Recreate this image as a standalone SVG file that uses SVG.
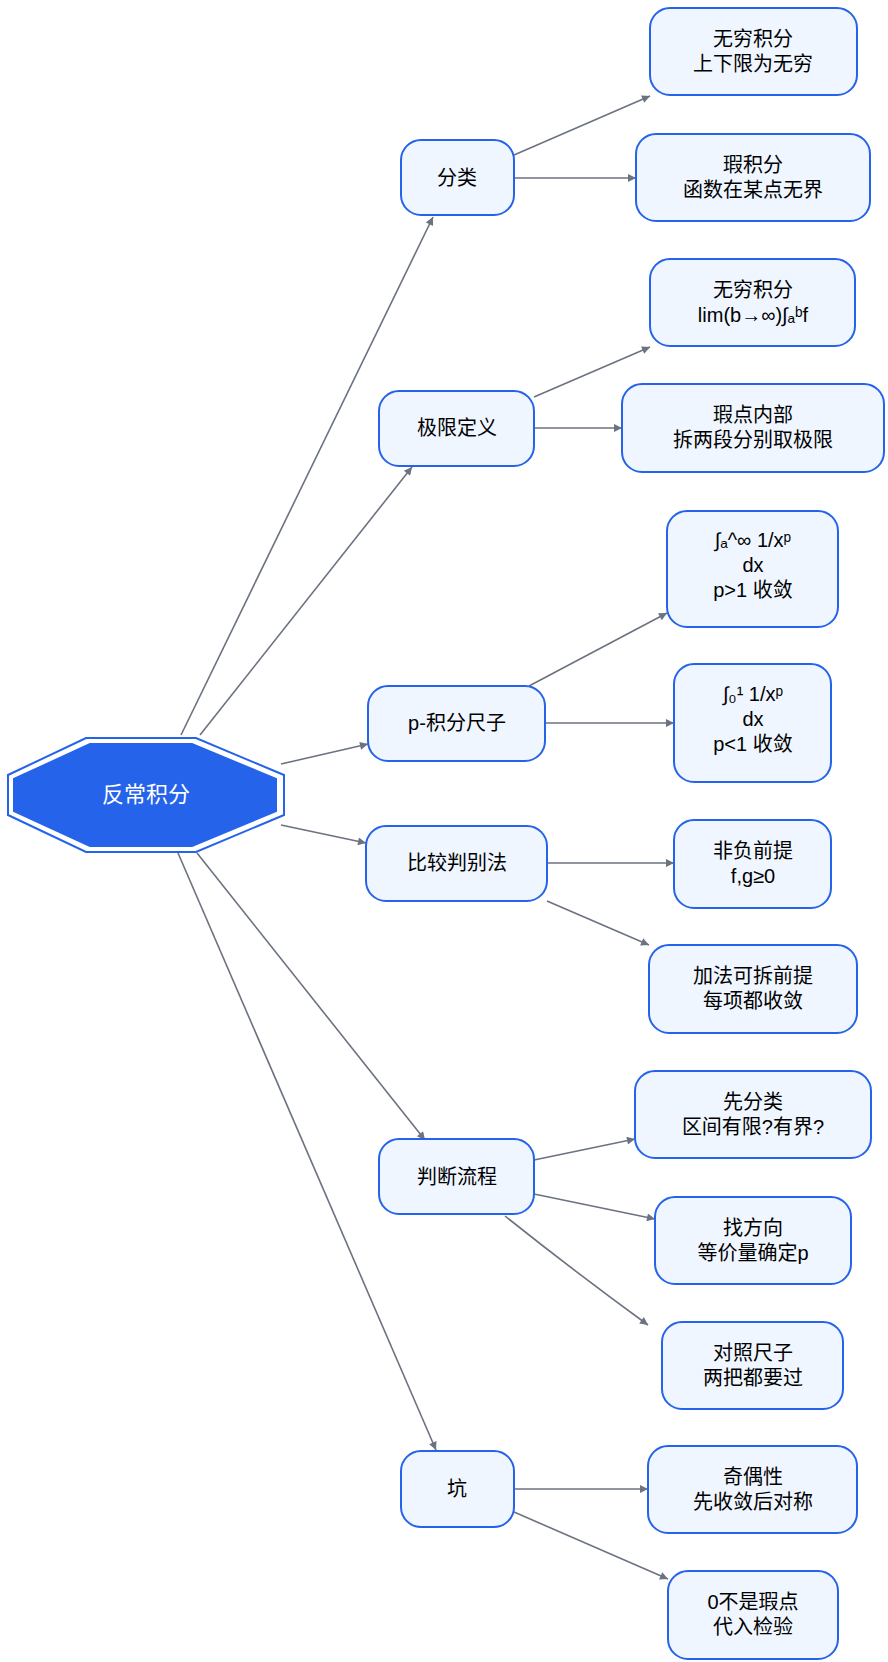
<svg xmlns="http://www.w3.org/2000/svg" width="888" height="1662" viewBox="0 0 888 1662">
<defs>
<style>
.n rect{fill:#eff6ff;stroke:#2563eb;stroke-width:2}
text{font-family:"Liberation Sans","Noto Sans CJK SC",sans-serif;font-size:20px;fill:#000;text-anchor:middle}
#edges path{fill:none;stroke:#6b7280;stroke-width:1.6;marker-end:url(#a)}
</style>
<marker id="a" viewBox="0 0 10 10" refX="10" refY="5" markerWidth="10" markerHeight="8" orient="auto" markerUnits="userSpaceOnUse"><path d="M0,0L10,5L0,10z" fill="#6b7280"/></marker>
</defs>
<rect width="888" height="1662" fill="#fff"/>
<g id="edges">
<path d="M181,735L433,217"/>
<path d="M200,735L412,467"/>
<path d="M281,764L368,744"/>
<path d="M281,825L366,843"/>
<path d="M197,853L425,1140"/>
<path d="M178,853L436,1450"/>
<path d="M514,155L650,96"/>
<path d="M514,178L636,178"/>
<path d="M534,397L650,347"/>
<path d="M534,428L622,428"/>
<path d="M529,686L667,613"/>
<path d="M545,723L674,723"/>
<path d="M547,863L674,863"/>
<path d="M547,901L649,945"/>
<path d="M534,1160L635,1139"/>
<path d="M534,1194L655,1219"/>
<path d="M505,1216C550,1252 600,1290 648,1325"/>
<path d="M514,1489L648,1489"/>
<path d="M514,1512L668,1579"/>
</g>
<g id="root">
<polygon points="86,738 196,738 284,775 284,815 196,852 86,852 8,815 8,775" fill="#fff" stroke="#2563eb" stroke-width="2"/>
<polygon points="90,744 192,744 276,779 276,811 192,846 90,846 14,811 14,779" fill="#2563eb" stroke="#2563eb" stroke-width="2"/>
<text x="146" y="802" style="fill:#fff;font-size:22px">反常积分</text>
</g>
<g id="n1" class="n"><rect x="401" y="140" width="113" height="75" rx="20"/><text x="457" y="185">分类</text></g>
<g id="n2" class="n"><rect x="650" y="8" width="207" height="87" rx="20"/><text x="753" y="46">无穷积分</text><text x="753" y="71">上下限为无穷</text></g>
<g id="n3" class="n"><rect x="636" y="134" width="234" height="87" rx="20"/><text x="753" y="172">瑕积分</text><text x="753" y="197">函数在某点无界</text></g>
<g id="n4" class="n"><rect x="379" y="391" width="155" height="75" rx="20"/><text x="457" y="435">极限定义</text></g>
<g id="n5" class="n"><rect x="650" y="259" width="205" height="87" rx="20"/><text x="753" y="297">无穷积分</text><text x="753" y="322">lim(b→∞)∫ₐᵇf</text></g>
<g id="n6" class="n"><rect x="622" y="384" width="262" height="88" rx="20"/><text x="753" y="422">瑕点内部</text><text x="753" y="447">拆两段分别取极限</text></g>
<g id="n7" class="n"><rect x="368" y="686" width="177" height="75" rx="20"/><text x="457" y="730">p-积分尺子</text></g>
<g id="n8" class="n"><rect x="667" y="511" width="171" height="116" rx="20"/><text x="753" y="547">∫ₐ^∞ 1/xᵖ</text><text x="753" y="572">dx</text><text x="753" y="597">p&gt;1 收敛</text></g>
<g id="n9" class="n"><rect x="674" y="664" width="157" height="118" rx="20"/><text x="753" y="701">∫₀¹ 1/xᵖ</text><text x="753" y="726">dx</text><text x="753" y="751">p&lt;1 收敛</text></g>
<g id="n10" class="n"><rect x="366" y="826" width="181" height="75" rx="20"/><text x="457" y="870">比较判别法</text></g>
<g id="n11" class="n"><rect x="674" y="820" width="157" height="88" rx="20"/><text x="753" y="858">非负前提</text><text x="753" y="883">f,g≥0</text></g>
<g id="n12" class="n"><rect x="649" y="945" width="208" height="88" rx="20"/><text x="753" y="983">加法可拆前提</text><text x="753" y="1008">每项都收敛</text></g>
<g id="n13" class="n"><rect x="379" y="1139" width="155" height="75" rx="20"/><text x="457" y="1184">判断流程</text></g>
<g id="n14" class="n"><rect x="635" y="1071" width="236" height="87" rx="20"/><text x="753" y="1109">先分类</text><text x="753" y="1134">区间有限?有界?</text></g>
<g id="n15" class="n"><rect x="655" y="1197" width="196" height="87" rx="20"/><text x="753" y="1235">找方向</text><text x="753" y="1260">等价量确定p</text></g>
<g id="n16" class="n"><rect x="662" y="1322" width="181" height="87" rx="20"/><text x="753" y="1360">对照尺子</text><text x="753" y="1385">两把都要过</text></g>
<g id="n17" class="n"><rect x="401" y="1451" width="113" height="76" rx="20"/><text x="457" y="1496">坑</text></g>
<g id="n18" class="n"><rect x="648" y="1446" width="209" height="87" rx="20"/><text x="753" y="1484">奇偶性</text><text x="753" y="1509">先收敛后对称</text></g>
<g id="n19" class="n"><rect x="668" y="1571" width="170" height="88" rx="20"/><text x="753" y="1609">0不是瑕点</text><text x="753" y="1634">代入检验</text></g>
</svg>
